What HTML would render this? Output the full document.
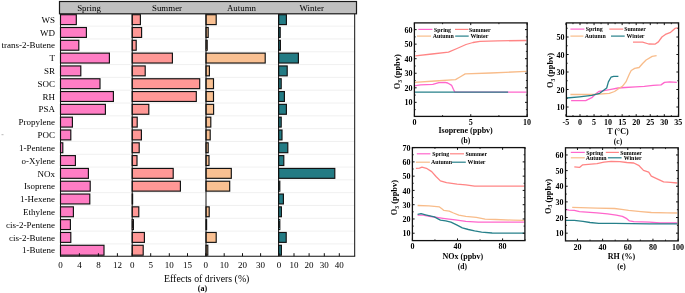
<!DOCTYPE html>
<html><head><meta charset="utf-8"><style>
html,body{margin:0;padding:0;background:#fff;}
svg{display:block;font-family:"Liberation Serif", serif;filter:blur(0.3px);}
</style></head><body>
<svg width="685" height="293" viewBox="0 0 685 293">
<rect width="685" height="293" fill="#fff"/>
<line x1="60.5" y1="26.15" x2="354.7" y2="26.15" stroke="#ececec" stroke-width="0.8"/>
<line x1="60.5" y1="38.96" x2="354.7" y2="38.96" stroke="#ececec" stroke-width="0.8"/>
<line x1="60.5" y1="51.77" x2="354.7" y2="51.77" stroke="#ececec" stroke-width="0.8"/>
<line x1="60.5" y1="64.58" x2="354.7" y2="64.58" stroke="#ececec" stroke-width="0.8"/>
<line x1="60.5" y1="77.39" x2="354.7" y2="77.39" stroke="#ececec" stroke-width="0.8"/>
<line x1="60.5" y1="90.20" x2="354.7" y2="90.20" stroke="#ececec" stroke-width="0.8"/>
<line x1="60.5" y1="103.01" x2="354.7" y2="103.01" stroke="#ececec" stroke-width="0.8"/>
<line x1="60.5" y1="115.82" x2="354.7" y2="115.82" stroke="#ececec" stroke-width="0.8"/>
<line x1="60.5" y1="128.63" x2="354.7" y2="128.63" stroke="#ececec" stroke-width="0.8"/>
<line x1="60.5" y1="141.44" x2="354.7" y2="141.44" stroke="#ececec" stroke-width="0.8"/>
<line x1="60.5" y1="154.25" x2="354.7" y2="154.25" stroke="#ececec" stroke-width="0.8"/>
<line x1="60.5" y1="167.06" x2="354.7" y2="167.06" stroke="#ececec" stroke-width="0.8"/>
<line x1="60.5" y1="179.87" x2="354.7" y2="179.87" stroke="#ececec" stroke-width="0.8"/>
<line x1="60.5" y1="192.68" x2="354.7" y2="192.68" stroke="#ececec" stroke-width="0.8"/>
<line x1="60.5" y1="205.49" x2="354.7" y2="205.49" stroke="#ececec" stroke-width="0.8"/>
<line x1="60.5" y1="218.30" x2="354.7" y2="218.30" stroke="#ececec" stroke-width="0.8"/>
<line x1="60.5" y1="231.11" x2="354.7" y2="231.11" stroke="#ececec" stroke-width="0.8"/>
<line x1="60.5" y1="243.92" x2="354.7" y2="243.92" stroke="#ececec" stroke-width="0.8"/>
<rect x="60.50" y="14.70" width="15.80" height="9.9" fill="#ff7dc4" stroke="#111" stroke-width="1.15"/>
<rect x="60.50" y="27.51" width="25.90" height="9.9" fill="#ff7dc4" stroke="#111" stroke-width="1.15"/>
<rect x="60.50" y="40.32" width="18.30" height="9.9" fill="#ff7dc4" stroke="#111" stroke-width="1.15"/>
<rect x="60.50" y="53.13" width="48.90" height="9.9" fill="#ff7dc4" stroke="#111" stroke-width="1.15"/>
<rect x="60.50" y="65.94" width="20.30" height="9.9" fill="#ff7dc4" stroke="#111" stroke-width="1.15"/>
<rect x="60.50" y="78.75" width="39.50" height="9.9" fill="#ff7dc4" stroke="#111" stroke-width="1.15"/>
<rect x="60.50" y="91.56" width="52.90" height="9.9" fill="#ff7dc4" stroke="#111" stroke-width="1.15"/>
<rect x="60.50" y="104.37" width="44.90" height="9.9" fill="#ff7dc4" stroke="#111" stroke-width="1.15"/>
<rect x="60.50" y="117.18" width="11.90" height="9.9" fill="#ff7dc4" stroke="#111" stroke-width="1.15"/>
<rect x="60.50" y="129.99" width="10.30" height="9.9" fill="#ff7dc4" stroke="#111" stroke-width="1.15"/>
<rect x="60.50" y="142.80" width="2.30" height="9.9" fill="#ff7dc4" stroke="#111" stroke-width="1.15"/>
<rect x="60.50" y="155.61" width="14.90" height="9.9" fill="#ff7dc4" stroke="#111" stroke-width="1.15"/>
<rect x="60.50" y="168.42" width="27.90" height="9.9" fill="#ff7dc4" stroke="#111" stroke-width="1.15"/>
<rect x="60.50" y="181.23" width="29.70" height="9.9" fill="#ff7dc4" stroke="#111" stroke-width="1.15"/>
<rect x="60.50" y="194.04" width="29.30" height="9.9" fill="#ff7dc4" stroke="#111" stroke-width="1.15"/>
<rect x="60.50" y="206.85" width="12.90" height="9.9" fill="#ff7dc4" stroke="#111" stroke-width="1.15"/>
<rect x="60.50" y="219.66" width="9.90" height="9.9" fill="#ff7dc4" stroke="#111" stroke-width="1.15"/>
<rect x="60.50" y="232.47" width="10.30" height="9.9" fill="#ff7dc4" stroke="#111" stroke-width="1.15"/>
<rect x="60.50" y="245.28" width="43.50" height="9.9" fill="#ff7dc4" stroke="#111" stroke-width="1.15"/>
<rect x="132.20" y="14.70" width="8.20" height="9.9" fill="#ff9896" stroke="#111" stroke-width="1.15"/>
<rect x="132.20" y="27.51" width="9.40" height="9.9" fill="#ff9896" stroke="#111" stroke-width="1.15"/>
<rect x="132.20" y="40.32" width="4.00" height="9.9" fill="#ff9896" stroke="#111" stroke-width="1.15"/>
<rect x="132.20" y="53.13" width="40.20" height="9.9" fill="#ff9896" stroke="#111" stroke-width="1.15"/>
<rect x="132.20" y="65.94" width="13.00" height="9.9" fill="#ff9896" stroke="#111" stroke-width="1.15"/>
<rect x="132.20" y="78.75" width="67.50" height="9.9" fill="#ff9896" stroke="#111" stroke-width="1.15"/>
<rect x="132.20" y="91.56" width="64.10" height="9.9" fill="#ff9896" stroke="#111" stroke-width="1.15"/>
<rect x="132.20" y="104.37" width="16.60" height="9.9" fill="#ff9896" stroke="#111" stroke-width="1.15"/>
<rect x="132.20" y="117.18" width="5.00" height="9.9" fill="#ff9896" stroke="#111" stroke-width="1.15"/>
<rect x="132.20" y="129.99" width="9.20" height="9.9" fill="#ff9896" stroke="#111" stroke-width="1.15"/>
<rect x="132.20" y="142.80" width="7.00" height="9.9" fill="#ff9896" stroke="#111" stroke-width="1.15"/>
<rect x="132.20" y="155.61" width="4.80" height="9.9" fill="#ff9896" stroke="#111" stroke-width="1.15"/>
<rect x="132.20" y="168.42" width="41.00" height="9.9" fill="#ff9896" stroke="#111" stroke-width="1.15"/>
<rect x="132.20" y="181.23" width="48.20" height="9.9" fill="#ff9896" stroke="#111" stroke-width="1.15"/>
<rect x="132.20" y="194.04" width="0.40" height="9.9" fill="#ff9896" stroke="#111" stroke-width="1.15"/>
<rect x="132.20" y="206.85" width="6.60" height="9.9" fill="#ff9896" stroke="#111" stroke-width="1.15"/>
<rect x="132.20" y="219.66" width="1.20" height="9.9" fill="#ff9896" stroke="#111" stroke-width="1.15"/>
<rect x="132.20" y="232.47" width="12.20" height="9.9" fill="#ff9896" stroke="#111" stroke-width="1.15"/>
<rect x="132.20" y="245.28" width="11.00" height="9.9" fill="#ff9896" stroke="#111" stroke-width="1.15"/>
<rect x="206.00" y="14.70" width="10.20" height="9.9" fill="#f9c092" stroke="#111" stroke-width="1.15"/>
<rect x="206.00" y="27.51" width="2.20" height="9.9" fill="#f9c092" stroke="#111" stroke-width="1.15"/>
<rect x="206.00" y="40.32" width="1.20" height="9.9" fill="#f9c092" stroke="#111" stroke-width="1.15"/>
<rect x="206.00" y="53.13" width="59.20" height="9.9" fill="#f9c092" stroke="#111" stroke-width="1.15"/>
<rect x="206.00" y="65.94" width="3.40" height="9.9" fill="#f9c092" stroke="#111" stroke-width="1.15"/>
<rect x="206.00" y="78.75" width="7.50" height="9.9" fill="#f9c092" stroke="#111" stroke-width="1.15"/>
<rect x="206.00" y="91.56" width="7.50" height="9.9" fill="#f9c092" stroke="#111" stroke-width="1.15"/>
<rect x="206.00" y="104.37" width="7.60" height="9.9" fill="#f9c092" stroke="#111" stroke-width="1.15"/>
<rect x="206.00" y="117.18" width="4.80" height="9.9" fill="#f9c092" stroke="#111" stroke-width="1.15"/>
<rect x="206.00" y="129.99" width="4.20" height="9.9" fill="#f9c092" stroke="#111" stroke-width="1.15"/>
<rect x="206.00" y="142.80" width="2.20" height="9.9" fill="#f9c092" stroke="#111" stroke-width="1.15"/>
<rect x="206.00" y="155.61" width="3.00" height="9.9" fill="#f9c092" stroke="#111" stroke-width="1.15"/>
<rect x="206.00" y="168.42" width="25.30" height="9.9" fill="#f9c092" stroke="#111" stroke-width="1.15"/>
<rect x="206.00" y="181.23" width="23.70" height="9.9" fill="#f9c092" stroke="#111" stroke-width="1.15"/>
<rect x="206.00" y="206.85" width="3.20" height="9.9" fill="#f9c092" stroke="#111" stroke-width="1.15"/>
<rect x="206.00" y="219.66" width="0.60" height="9.9" fill="#f9c092" stroke="#111" stroke-width="1.15"/>
<rect x="206.00" y="232.47" width="10.20" height="9.9" fill="#f9c092" stroke="#111" stroke-width="1.15"/>
<rect x="206.00" y="245.28" width="1.80" height="9.9" fill="#f9c092" stroke="#111" stroke-width="1.15"/>
<rect x="278.60" y="14.70" width="7.80" height="9.9" fill="#237b84" stroke="#111" stroke-width="1.15"/>
<rect x="278.60" y="27.51" width="1.60" height="9.9" fill="#237b84" stroke="#111" stroke-width="1.15"/>
<rect x="278.60" y="40.32" width="1.80" height="9.9" fill="#237b84" stroke="#111" stroke-width="1.15"/>
<rect x="278.60" y="53.13" width="19.80" height="9.9" fill="#237b84" stroke="#111" stroke-width="1.15"/>
<rect x="278.60" y="65.94" width="8.60" height="9.9" fill="#237b84" stroke="#111" stroke-width="1.15"/>
<rect x="278.60" y="78.75" width="2.60" height="9.9" fill="#237b84" stroke="#111" stroke-width="1.15"/>
<rect x="278.60" y="91.56" width="5.80" height="9.9" fill="#237b84" stroke="#111" stroke-width="1.15"/>
<rect x="278.60" y="104.37" width="7.80" height="9.9" fill="#237b84" stroke="#111" stroke-width="1.15"/>
<rect x="278.60" y="117.18" width="2.60" height="9.9" fill="#237b84" stroke="#111" stroke-width="1.15"/>
<rect x="278.60" y="129.99" width="3.40" height="9.9" fill="#237b84" stroke="#111" stroke-width="1.15"/>
<rect x="278.60" y="142.80" width="9.20" height="9.9" fill="#237b84" stroke="#111" stroke-width="1.15"/>
<rect x="278.60" y="155.61" width="5.20" height="9.9" fill="#237b84" stroke="#111" stroke-width="1.15"/>
<rect x="278.60" y="168.42" width="56.20" height="9.9" fill="#237b84" stroke="#111" stroke-width="1.15"/>
<rect x="278.60" y="181.23" width="1.20" height="9.9" fill="#237b84" stroke="#111" stroke-width="1.15"/>
<rect x="278.60" y="194.04" width="4.80" height="9.9" fill="#237b84" stroke="#111" stroke-width="1.15"/>
<rect x="278.60" y="206.85" width="2.80" height="9.9" fill="#237b84" stroke="#111" stroke-width="1.15"/>
<rect x="278.60" y="219.66" width="1.20" height="9.9" fill="#237b84" stroke="#111" stroke-width="1.15"/>
<rect x="278.60" y="232.47" width="7.60" height="9.9" fill="#237b84" stroke="#111" stroke-width="1.15"/>
<rect x="278.60" y="245.28" width="2.80" height="9.9" fill="#237b84" stroke="#111" stroke-width="1.15"/>
<line x1="60.5" y1="14" x2="60.5" y2="256.2" stroke="#111" stroke-width="1"/>
<line x1="132.2" y1="14" x2="132.2" y2="256.2" stroke="#111" stroke-width="1"/>
<line x1="206.0" y1="14" x2="206.0" y2="256.2" stroke="#111" stroke-width="1"/>
<line x1="278.6" y1="14" x2="278.6" y2="256.2" stroke="#111" stroke-width="1"/>
<line x1="354.7" y1="14" x2="354.7" y2="256.2" stroke="#111" stroke-width="1"/>
<line x1="60" y1="256.2" x2="355.2" y2="256.2" stroke="#111" stroke-width="1.1"/>
<rect x="59.5" y="1.5" width="297" height="12.3" fill="#c0c0c0" stroke="#1a1a1a" stroke-width="1.2"/>
<text x="89" y="11" font-size="8.9" text-anchor="middle" fill="#000">Spring</text>
<text x="167" y="11" font-size="8.9" text-anchor="middle" fill="#000">Summer</text>
<text x="241.5" y="11" font-size="8.9" text-anchor="middle" fill="#000">Autumn</text>
<text x="311.7" y="11" font-size="8.9" text-anchor="middle" fill="#000">Winter</text>
<text x="55" y="22.80" font-size="9" text-anchor="end" fill="#000">WS</text>
<text x="55" y="35.61" font-size="9" text-anchor="end" fill="#000">WD</text>
<text x="55" y="48.42" font-size="9" text-anchor="end" fill="#000">trans-2-Butene</text>
<text x="55" y="61.23" font-size="9" text-anchor="end" fill="#000">T</text>
<text x="55" y="74.04" font-size="9" text-anchor="end" fill="#000">SR</text>
<text x="55" y="86.85" font-size="9" text-anchor="end" fill="#000">SOC</text>
<text x="55" y="99.66" font-size="9" text-anchor="end" fill="#000">RH</text>
<text x="55" y="112.47" font-size="9" text-anchor="end" fill="#000">PSA</text>
<text x="55" y="125.28" font-size="9" text-anchor="end" fill="#000">Propylene</text>
<text x="55" y="138.09" font-size="9" text-anchor="end" fill="#000">POC</text>
<text x="55" y="150.90" font-size="9" text-anchor="end" fill="#000">1-Pentene</text>
<text x="55" y="163.71" font-size="9" text-anchor="end" fill="#000">o-Xylene</text>
<text x="55" y="176.52" font-size="9" text-anchor="end" fill="#000">NOx</text>
<text x="55" y="189.33" font-size="9" text-anchor="end" fill="#000">Isoprene</text>
<text x="55" y="202.14" font-size="9" text-anchor="end" fill="#000">1-Hexene</text>
<text x="55" y="214.95" font-size="9" text-anchor="end" fill="#000">Ethylene</text>
<text x="55" y="227.76" font-size="9" text-anchor="end" fill="#000">cis-2-Pentene</text>
<text x="55" y="240.57" font-size="9" text-anchor="end" fill="#000">cis-2-Butene</text>
<text x="55" y="253.38" font-size="9" text-anchor="end" fill="#000">1-Butene</text>
<line x1="60.5" y1="256.2" x2="60.5" y2="253.2" stroke="#111" stroke-width="1"/>
<text x="60.5" y="268.3" font-size="9" text-anchor="middle" fill="#000">0</text>
<line x1="79.4" y1="256.2" x2="79.4" y2="253.2" stroke="#111" stroke-width="1"/>
<text x="79.4" y="268.3" font-size="9" text-anchor="middle" fill="#000">4</text>
<line x1="98.4" y1="256.2" x2="98.4" y2="253.2" stroke="#111" stroke-width="1"/>
<text x="98.4" y="268.3" font-size="9" text-anchor="middle" fill="#000">8</text>
<line x1="117.4" y1="256.2" x2="117.4" y2="253.2" stroke="#111" stroke-width="1"/>
<text x="117.4" y="268.3" font-size="9" text-anchor="middle" fill="#000">12</text>
<line x1="132.2" y1="256.2" x2="132.2" y2="253.2" stroke="#111" stroke-width="1"/>
<text x="132.2" y="268.3" font-size="9" text-anchor="middle" fill="#000">0</text>
<line x1="150.7" y1="256.2" x2="150.7" y2="253.2" stroke="#111" stroke-width="1"/>
<text x="150.7" y="268.3" font-size="9" text-anchor="middle" fill="#000">5</text>
<line x1="169.3" y1="256.2" x2="169.3" y2="253.2" stroke="#111" stroke-width="1"/>
<text x="169.3" y="268.3" font-size="9" text-anchor="middle" fill="#000">10</text>
<line x1="187.5" y1="256.2" x2="187.5" y2="253.2" stroke="#111" stroke-width="1"/>
<text x="187.5" y="268.3" font-size="9" text-anchor="middle" fill="#000">15</text>
<line x1="205.8" y1="256.2" x2="205.8" y2="253.2" stroke="#111" stroke-width="1"/>
<text x="205.8" y="268.3" font-size="9" text-anchor="middle" fill="#000">0</text>
<line x1="224.2" y1="256.2" x2="224.2" y2="253.2" stroke="#111" stroke-width="1"/>
<text x="224.2" y="268.3" font-size="9" text-anchor="middle" fill="#000">10</text>
<line x1="242.5" y1="256.2" x2="242.5" y2="253.2" stroke="#111" stroke-width="1"/>
<text x="242.5" y="268.3" font-size="9" text-anchor="middle" fill="#000">20</text>
<line x1="260.6" y1="256.2" x2="260.6" y2="253.2" stroke="#111" stroke-width="1"/>
<text x="260.6" y="268.3" font-size="9" text-anchor="middle" fill="#000">30</text>
<line x1="279.0" y1="256.2" x2="279.0" y2="253.2" stroke="#111" stroke-width="1"/>
<text x="279.0" y="268.3" font-size="9" text-anchor="middle" fill="#000">0</text>
<line x1="294.0" y1="256.2" x2="294.0" y2="253.2" stroke="#111" stroke-width="1"/>
<text x="294.0" y="268.3" font-size="9" text-anchor="middle" fill="#000">10</text>
<line x1="309.1" y1="256.2" x2="309.1" y2="253.2" stroke="#111" stroke-width="1"/>
<text x="309.1" y="268.3" font-size="9" text-anchor="middle" fill="#000">20</text>
<line x1="324.3" y1="256.2" x2="324.3" y2="253.2" stroke="#111" stroke-width="1"/>
<text x="324.3" y="268.3" font-size="9" text-anchor="middle" fill="#000">30</text>
<line x1="339.3" y1="256.2" x2="339.3" y2="253.2" stroke="#111" stroke-width="1"/>
<text x="339.3" y="268.3" font-size="9" text-anchor="middle" fill="#000">40</text>
<text x="206.7" y="282" font-size="9.85" text-anchor="middle" fill="#000">Effects of drivers (%)</text>
<text x="202.5" y="290.5" font-size="8" font-weight="bold" text-anchor="middle" fill="#000">(a)</text>
<line x1="1.5" y1="134.7" x2="3.5" y2="134.7" stroke="#999" stroke-width="0.7"/>
<polyline points="414.4,85.8 420.5,84.9 432.8,84.4 438.9,82.6 445.0,82.3 447.7,83.0 451.7,85.4 453.4,89.3 454.7,91.9 456.0,92.2 508.0,92.2 526.5,92.2" fill="none" stroke="#ff66cc" stroke-width="1.3" stroke-linejoin="round"/>
<polyline points="415.3,55.8 432.0,54.0 448.5,52.2 457.0,48.5 466.0,44.5 473.0,42.5 480.0,41.4 497.6,40.9 526.5,40.5" fill="none" stroke="#ff8585" stroke-width="1.3" stroke-linejoin="round"/>
<polyline points="414.4,82.3 435.0,81.0 455.5,79.6 460.0,77.0 465.2,73.9 490.6,73.0 526.5,71.4" fill="none" stroke="#f8bc8a" stroke-width="1.3" stroke-linejoin="round"/>
<polyline points="414.4,92.2 508.1,92.2" fill="none" stroke="#26808a" stroke-width="1.3" stroke-linejoin="round"/>
<rect x="414.4" y="22.9" width="112.80" height="93.50" fill="none" stroke="#111" stroke-width="1.3"/>
<line x1="414.4" y1="102.35" x2="416.59999999999997" y2="102.35" stroke="#111" stroke-width="1"/>
<line x1="527.2" y1="102.35" x2="525.0" y2="102.35" stroke="#111" stroke-width="1"/>
<text x="412.4" y="105.45" font-size="8" font-weight="bold" text-anchor="end" fill="#000">10</text>
<line x1="414.4" y1="87.80" x2="416.59999999999997" y2="87.80" stroke="#111" stroke-width="1"/>
<line x1="527.2" y1="87.80" x2="525.0" y2="87.80" stroke="#111" stroke-width="1"/>
<text x="412.4" y="90.90" font-size="8" font-weight="bold" text-anchor="end" fill="#000">20</text>
<line x1="414.4" y1="73.25" x2="416.59999999999997" y2="73.25" stroke="#111" stroke-width="1"/>
<line x1="527.2" y1="73.25" x2="525.0" y2="73.25" stroke="#111" stroke-width="1"/>
<text x="412.4" y="76.35" font-size="8" font-weight="bold" text-anchor="end" fill="#000">30</text>
<line x1="414.4" y1="58.70" x2="416.59999999999997" y2="58.70" stroke="#111" stroke-width="1"/>
<line x1="527.2" y1="58.70" x2="525.0" y2="58.70" stroke="#111" stroke-width="1"/>
<text x="412.4" y="61.80" font-size="8" font-weight="bold" text-anchor="end" fill="#000">40</text>
<line x1="414.4" y1="44.15" x2="416.59999999999997" y2="44.15" stroke="#111" stroke-width="1"/>
<line x1="527.2" y1="44.15" x2="525.0" y2="44.15" stroke="#111" stroke-width="1"/>
<text x="412.4" y="47.25" font-size="8" font-weight="bold" text-anchor="end" fill="#000">50</text>
<line x1="414.4" y1="29.60" x2="416.59999999999997" y2="29.60" stroke="#111" stroke-width="1"/>
<line x1="527.2" y1="29.60" x2="525.0" y2="29.60" stroke="#111" stroke-width="1"/>
<text x="412.4" y="32.70" font-size="8" font-weight="bold" text-anchor="end" fill="#000">60</text>
<line x1="414.4" y1="109.62" x2="415.7" y2="109.62" stroke="#111" stroke-width="0.9"/>
<line x1="527.2" y1="109.62" x2="525.9000000000001" y2="109.62" stroke="#111" stroke-width="0.9"/>
<line x1="414.4" y1="95.08" x2="415.7" y2="95.08" stroke="#111" stroke-width="0.9"/>
<line x1="527.2" y1="95.08" x2="525.9000000000001" y2="95.08" stroke="#111" stroke-width="0.9"/>
<line x1="414.4" y1="80.53" x2="415.7" y2="80.53" stroke="#111" stroke-width="0.9"/>
<line x1="527.2" y1="80.53" x2="525.9000000000001" y2="80.53" stroke="#111" stroke-width="0.9"/>
<line x1="414.4" y1="65.97" x2="415.7" y2="65.97" stroke="#111" stroke-width="0.9"/>
<line x1="527.2" y1="65.97" x2="525.9000000000001" y2="65.97" stroke="#111" stroke-width="0.9"/>
<line x1="414.4" y1="51.42" x2="415.7" y2="51.42" stroke="#111" stroke-width="0.9"/>
<line x1="527.2" y1="51.42" x2="525.9000000000001" y2="51.42" stroke="#111" stroke-width="0.9"/>
<line x1="414.4" y1="36.88" x2="415.7" y2="36.88" stroke="#111" stroke-width="0.9"/>
<line x1="527.2" y1="36.88" x2="525.9000000000001" y2="36.88" stroke="#111" stroke-width="0.9"/>
<line x1="414.40" y1="116.4" x2="414.40" y2="114.2" stroke="#111" stroke-width="1"/>
<line x1="414.40" y1="22.9" x2="414.40" y2="25.099999999999998" stroke="#111" stroke-width="1"/>
<text x="414.40" y="125.00" font-size="8" font-weight="bold" text-anchor="middle" fill="#000">0</text>
<line x1="470.75" y1="116.4" x2="470.75" y2="114.2" stroke="#111" stroke-width="1"/>
<line x1="470.75" y1="22.9" x2="470.75" y2="25.099999999999998" stroke="#111" stroke-width="1"/>
<text x="470.75" y="125.00" font-size="8" font-weight="bold" text-anchor="middle" fill="#000">5</text>
<line x1="527.10" y1="116.4" x2="527.10" y2="114.2" stroke="#111" stroke-width="1"/>
<line x1="527.10" y1="22.9" x2="527.10" y2="25.099999999999998" stroke="#111" stroke-width="1"/>
<text x="527.10" y="125.00" font-size="8" font-weight="bold" text-anchor="middle" fill="#000">10</text>
<line x1="442.57" y1="116.4" x2="442.57" y2="115.10000000000001" stroke="#111" stroke-width="0.9"/>
<line x1="442.57" y1="22.9" x2="442.57" y2="24.2" stroke="#111" stroke-width="0.9"/>
<line x1="498.92" y1="116.4" x2="498.92" y2="115.10000000000001" stroke="#111" stroke-width="0.9"/>
<line x1="498.92" y1="22.9" x2="498.92" y2="24.2" stroke="#111" stroke-width="0.9"/>
<text x="465.6" y="133.3" font-size="8" font-weight="bold" text-anchor="middle" fill="#000">Isoprene (ppbv)</text>
<text x="465.6" y="143.4" font-size="7.5" font-weight="bold" text-anchor="middle" fill="#000">(b)</text>
<text transform="translate(399.9,71.8) rotate(-90)" font-size="8.4" font-weight="bold" text-anchor="middle" fill="#000">O<tspan font-size="5.5" dy="1.8">3</tspan><tspan dy="-1.8"> (ppbv)</tspan></text>
<line x1="418.3" y1="29.4" x2="432.4" y2="29.4" stroke="#ff66cc" stroke-width="1.2"/>
<text x="434" y="31.5" font-size="5.9" font-weight="bold" fill="#000">Spring</text>
<line x1="455" y1="29.4" x2="468.5" y2="29.4" stroke="#ff8585" stroke-width="1.2"/>
<text x="469" y="31.5" font-size="5.9" font-weight="bold" fill="#000">Summer</text>
<line x1="417" y1="36.1" x2="431" y2="36.1" stroke="#f8bc8a" stroke-width="1.2"/>
<text x="432.8" y="38.2" font-size="5.9" font-weight="bold" fill="#000">Autumn</text>
<line x1="455.2" y1="36.1" x2="468.7" y2="36.1" stroke="#26808a" stroke-width="1.2"/>
<text x="470.4" y="38.2" font-size="5.9" font-weight="bold" fill="#000">Winter</text>
<polyline points="571.1,100.6 585.7,100.6 591.8,97.7 595.3,94.2 598.8,91.5 604.0,90.7 611.0,89.4 618.1,88.0 625.1,87.5 635.6,86.8 644.3,86.3 653.1,85.4 661.0,84.9 664.5,82.4 669.7,81.9 676.8,82.4" fill="none" stroke="#ff66cc" stroke-width="1.3" stroke-linejoin="round"/>
<polyline points="633.0,42.2 642.6,42.2 648.7,44.0 654.9,44.2 658.4,41.9 661.9,37.0 665.4,34.4 670.6,32.3 675.0,28.4 677.6,27.9" fill="none" stroke="#ff8585" stroke-width="1.3" stroke-linejoin="round"/>
<polyline points="570.4,94.5 593.5,94.5 609.3,93.3 614.6,91.5 618.1,88.9 622.4,86.3 625.9,81.9 629.4,74.0 631.2,70.5 634.7,68.4 639.1,67.5 642.6,63.5 646.1,60.0 652.2,56.4 656.6,55.6" fill="none" stroke="#f8bc8a" stroke-width="1.3" stroke-linejoin="round"/>
<polyline points="566.4,98.0 579.5,96.8 591.8,95.4 599.7,93.3 604.0,90.1 606.7,88.0 608.4,81.9 611.0,77.2 613.7,76.3 618.4,76.3" fill="none" stroke="#26808a" stroke-width="1.3" stroke-linejoin="round"/>
<rect x="566.4" y="22.9" width="112.20" height="93.50" fill="none" stroke="#111" stroke-width="1.3"/>
<line x1="566.4" y1="107.00" x2="568.6" y2="107.00" stroke="#111" stroke-width="1"/>
<line x1="678.6" y1="107.00" x2="676.4" y2="107.00" stroke="#111" stroke-width="1"/>
<text x="564.4" y="110.10" font-size="8" font-weight="bold" text-anchor="end" fill="#000">10</text>
<line x1="566.4" y1="89.50" x2="568.6" y2="89.50" stroke="#111" stroke-width="1"/>
<line x1="678.6" y1="89.50" x2="676.4" y2="89.50" stroke="#111" stroke-width="1"/>
<text x="564.4" y="92.60" font-size="8" font-weight="bold" text-anchor="end" fill="#000">20</text>
<line x1="566.4" y1="72.00" x2="568.6" y2="72.00" stroke="#111" stroke-width="1"/>
<line x1="678.6" y1="72.00" x2="676.4" y2="72.00" stroke="#111" stroke-width="1"/>
<text x="564.4" y="75.10" font-size="8" font-weight="bold" text-anchor="end" fill="#000">30</text>
<line x1="566.4" y1="54.50" x2="568.6" y2="54.50" stroke="#111" stroke-width="1"/>
<line x1="678.6" y1="54.50" x2="676.4" y2="54.50" stroke="#111" stroke-width="1"/>
<text x="564.4" y="57.60" font-size="8" font-weight="bold" text-anchor="end" fill="#000">40</text>
<line x1="566.4" y1="37.00" x2="568.6" y2="37.00" stroke="#111" stroke-width="1"/>
<line x1="678.6" y1="37.00" x2="676.4" y2="37.00" stroke="#111" stroke-width="1"/>
<text x="564.4" y="40.10" font-size="8" font-weight="bold" text-anchor="end" fill="#000">50</text>
<line x1="566.4" y1="98.25" x2="567.6999999999999" y2="98.25" stroke="#111" stroke-width="0.9"/>
<line x1="678.6" y1="98.25" x2="677.3000000000001" y2="98.25" stroke="#111" stroke-width="0.9"/>
<line x1="566.4" y1="80.75" x2="567.6999999999999" y2="80.75" stroke="#111" stroke-width="0.9"/>
<line x1="678.6" y1="80.75" x2="677.3000000000001" y2="80.75" stroke="#111" stroke-width="0.9"/>
<line x1="566.4" y1="63.25" x2="567.6999999999999" y2="63.25" stroke="#111" stroke-width="0.9"/>
<line x1="678.6" y1="63.25" x2="677.3000000000001" y2="63.25" stroke="#111" stroke-width="0.9"/>
<line x1="566.4" y1="45.75" x2="567.6999999999999" y2="45.75" stroke="#111" stroke-width="0.9"/>
<line x1="678.6" y1="45.75" x2="677.3000000000001" y2="45.75" stroke="#111" stroke-width="0.9"/>
<line x1="566.4" y1="28.25" x2="567.6999999999999" y2="28.25" stroke="#111" stroke-width="0.9"/>
<line x1="678.6" y1="28.25" x2="677.3000000000001" y2="28.25" stroke="#111" stroke-width="0.9"/>
<line x1="565.95" y1="116.4" x2="565.95" y2="114.2" stroke="#111" stroke-width="1"/>
<line x1="565.95" y1="22.9" x2="565.95" y2="25.099999999999998" stroke="#111" stroke-width="1"/>
<text x="565.95" y="125.00" font-size="8" font-weight="bold" text-anchor="middle" fill="#000">-5</text>
<line x1="580.00" y1="116.4" x2="580.00" y2="114.2" stroke="#111" stroke-width="1"/>
<line x1="580.00" y1="22.9" x2="580.00" y2="25.099999999999998" stroke="#111" stroke-width="1"/>
<text x="580.00" y="125.00" font-size="8" font-weight="bold" text-anchor="middle" fill="#000">0</text>
<line x1="594.05" y1="116.4" x2="594.05" y2="114.2" stroke="#111" stroke-width="1"/>
<line x1="594.05" y1="22.9" x2="594.05" y2="25.099999999999998" stroke="#111" stroke-width="1"/>
<text x="594.05" y="125.00" font-size="8" font-weight="bold" text-anchor="middle" fill="#000">5</text>
<line x1="608.10" y1="116.4" x2="608.10" y2="114.2" stroke="#111" stroke-width="1"/>
<line x1="608.10" y1="22.9" x2="608.10" y2="25.099999999999998" stroke="#111" stroke-width="1"/>
<text x="608.10" y="125.00" font-size="8" font-weight="bold" text-anchor="middle" fill="#000">10</text>
<line x1="622.15" y1="116.4" x2="622.15" y2="114.2" stroke="#111" stroke-width="1"/>
<line x1="622.15" y1="22.9" x2="622.15" y2="25.099999999999998" stroke="#111" stroke-width="1"/>
<text x="622.15" y="125.00" font-size="8" font-weight="bold" text-anchor="middle" fill="#000">15</text>
<line x1="636.20" y1="116.4" x2="636.20" y2="114.2" stroke="#111" stroke-width="1"/>
<line x1="636.20" y1="22.9" x2="636.20" y2="25.099999999999998" stroke="#111" stroke-width="1"/>
<text x="636.20" y="125.00" font-size="8" font-weight="bold" text-anchor="middle" fill="#000">20</text>
<line x1="650.25" y1="116.4" x2="650.25" y2="114.2" stroke="#111" stroke-width="1"/>
<line x1="650.25" y1="22.9" x2="650.25" y2="25.099999999999998" stroke="#111" stroke-width="1"/>
<text x="650.25" y="125.00" font-size="8" font-weight="bold" text-anchor="middle" fill="#000">25</text>
<line x1="664.30" y1="116.4" x2="664.30" y2="114.2" stroke="#111" stroke-width="1"/>
<line x1="664.30" y1="22.9" x2="664.30" y2="25.099999999999998" stroke="#111" stroke-width="1"/>
<text x="664.30" y="125.00" font-size="8" font-weight="bold" text-anchor="middle" fill="#000">30</text>
<line x1="678.35" y1="116.4" x2="678.35" y2="114.2" stroke="#111" stroke-width="1"/>
<line x1="678.35" y1="22.9" x2="678.35" y2="25.099999999999998" stroke="#111" stroke-width="1"/>
<text x="678.35" y="125.00" font-size="8" font-weight="bold" text-anchor="middle" fill="#000">35</text>
<line x1="572.98" y1="116.4" x2="572.98" y2="115.10000000000001" stroke="#111" stroke-width="0.9"/>
<line x1="572.98" y1="22.9" x2="572.98" y2="24.2" stroke="#111" stroke-width="0.9"/>
<line x1="587.02" y1="116.4" x2="587.02" y2="115.10000000000001" stroke="#111" stroke-width="0.9"/>
<line x1="587.02" y1="22.9" x2="587.02" y2="24.2" stroke="#111" stroke-width="0.9"/>
<line x1="601.08" y1="116.4" x2="601.08" y2="115.10000000000001" stroke="#111" stroke-width="0.9"/>
<line x1="601.08" y1="22.9" x2="601.08" y2="24.2" stroke="#111" stroke-width="0.9"/>
<line x1="615.12" y1="116.4" x2="615.12" y2="115.10000000000001" stroke="#111" stroke-width="0.9"/>
<line x1="615.12" y1="22.9" x2="615.12" y2="24.2" stroke="#111" stroke-width="0.9"/>
<line x1="629.17" y1="116.4" x2="629.17" y2="115.10000000000001" stroke="#111" stroke-width="0.9"/>
<line x1="629.17" y1="22.9" x2="629.17" y2="24.2" stroke="#111" stroke-width="0.9"/>
<line x1="643.23" y1="116.4" x2="643.23" y2="115.10000000000001" stroke="#111" stroke-width="0.9"/>
<line x1="643.23" y1="22.9" x2="643.23" y2="24.2" stroke="#111" stroke-width="0.9"/>
<line x1="657.27" y1="116.4" x2="657.27" y2="115.10000000000001" stroke="#111" stroke-width="0.9"/>
<line x1="657.27" y1="22.9" x2="657.27" y2="24.2" stroke="#111" stroke-width="0.9"/>
<line x1="671.33" y1="116.4" x2="671.33" y2="115.10000000000001" stroke="#111" stroke-width="0.9"/>
<line x1="671.33" y1="22.9" x2="671.33" y2="24.2" stroke="#111" stroke-width="0.9"/>
<text x="618" y="134" font-size="8" font-weight="bold" text-anchor="middle" fill="#000">T (°C)</text>
<text x="618" y="144.2" font-size="7.5" font-weight="bold" text-anchor="middle" fill="#000">(c)</text>
<text transform="translate(553.1,70.5) rotate(-90)" font-size="8.4" font-weight="bold" text-anchor="middle" fill="#000">O<tspan font-size="5.5" dy="1.8">3</tspan><tspan dy="-1.8"> (ppbv)</tspan></text>
<line x1="570.4" y1="29.1" x2="584.4" y2="29.1" stroke="#ff66cc" stroke-width="1.2"/>
<text x="585.7" y="31.2" font-size="5.9" font-weight="bold" fill="#000">Spring</text>
<line x1="609.3" y1="29.1" x2="623.3" y2="29.1" stroke="#ff8585" stroke-width="1.2"/>
<text x="624.2" y="31.2" font-size="5.9" font-weight="bold" fill="#000">Summer</text>
<line x1="570.4" y1="36.1" x2="583.4" y2="36.1" stroke="#f8bc8a" stroke-width="1.2"/>
<text x="584.8" y="38.2" font-size="5.9" font-weight="bold" fill="#000">Autumn</text>
<line x1="611" y1="36.1" x2="624.7" y2="36.1" stroke="#26808a" stroke-width="1.2"/>
<text x="626.5" y="38.2" font-size="5.9" font-weight="bold" fill="#000">Winter</text>
<polyline points="417.6,215.1 422.9,215.1 430.8,216.5 443.0,218.3 455.3,219.9 465.8,221.3 478.1,222.2 524.5,222.2" fill="none" stroke="#ff66cc" stroke-width="1.3" stroke-linejoin="round"/>
<polyline points="415.9,168.3 419.4,168.1 422.0,167.2 426.4,168.3 431.7,171.6 436.0,176.5 440.4,180.9 446.5,182.7 457.1,184.1 465.8,184.9 474.6,186.2 486.8,186.2 524.5,186.2" fill="none" stroke="#ff8585" stroke-width="1.3" stroke-linejoin="round"/>
<polyline points="417.6,205.5 429.0,205.9 439.5,206.9 442.2,209.0 443.9,210.4 449.2,211.1 453.5,213.0 458.8,215.1 465.8,216.4 476.3,217.4 485.1,219.2 495.6,219.5 513.1,220.1 524.5,220.4" fill="none" stroke="#f8bc8a" stroke-width="1.3" stroke-linejoin="round"/>
<polyline points="417.6,214.3 421.1,213.7 425.5,214.8 434.3,216.9 440.4,220.1 445.7,220.8 450.9,222.2 457.1,225.1 462.3,227.9 468.4,229.5 474.6,230.9 481.6,232.1 492.1,233.0 506.1,233.2 524.5,233.2" fill="none" stroke="#26808a" stroke-width="1.3" stroke-linejoin="round"/>
<rect x="412.4" y="147.6" width="112.50" height="93.00" fill="none" stroke="#111" stroke-width="1.3"/>
<line x1="412.4" y1="233.23" x2="414.59999999999997" y2="233.23" stroke="#111" stroke-width="1"/>
<line x1="524.9" y1="233.23" x2="522.6999999999999" y2="233.23" stroke="#111" stroke-width="1"/>
<text x="410.4" y="236.33" font-size="8" font-weight="bold" text-anchor="end" fill="#000">10</text>
<line x1="412.4" y1="218.96" x2="414.59999999999997" y2="218.96" stroke="#111" stroke-width="1"/>
<line x1="524.9" y1="218.96" x2="522.6999999999999" y2="218.96" stroke="#111" stroke-width="1"/>
<text x="410.4" y="222.06" font-size="8" font-weight="bold" text-anchor="end" fill="#000">20</text>
<line x1="412.4" y1="204.69" x2="414.59999999999997" y2="204.69" stroke="#111" stroke-width="1"/>
<line x1="524.9" y1="204.69" x2="522.6999999999999" y2="204.69" stroke="#111" stroke-width="1"/>
<text x="410.4" y="207.79" font-size="8" font-weight="bold" text-anchor="end" fill="#000">30</text>
<line x1="412.4" y1="190.42" x2="414.59999999999997" y2="190.42" stroke="#111" stroke-width="1"/>
<line x1="524.9" y1="190.42" x2="522.6999999999999" y2="190.42" stroke="#111" stroke-width="1"/>
<text x="410.4" y="193.52" font-size="8" font-weight="bold" text-anchor="end" fill="#000">40</text>
<line x1="412.4" y1="176.15" x2="414.59999999999997" y2="176.15" stroke="#111" stroke-width="1"/>
<line x1="524.9" y1="176.15" x2="522.6999999999999" y2="176.15" stroke="#111" stroke-width="1"/>
<text x="410.4" y="179.25" font-size="8" font-weight="bold" text-anchor="end" fill="#000">50</text>
<line x1="412.4" y1="161.88" x2="414.59999999999997" y2="161.88" stroke="#111" stroke-width="1"/>
<line x1="524.9" y1="161.88" x2="522.6999999999999" y2="161.88" stroke="#111" stroke-width="1"/>
<text x="410.4" y="164.98" font-size="8" font-weight="bold" text-anchor="end" fill="#000">60</text>
<line x1="412.4" y1="147.61" x2="414.59999999999997" y2="147.61" stroke="#111" stroke-width="1"/>
<line x1="524.9" y1="147.61" x2="522.6999999999999" y2="147.61" stroke="#111" stroke-width="1"/>
<text x="410.4" y="150.71" font-size="8" font-weight="bold" text-anchor="end" fill="#000">70</text>
<line x1="412.4" y1="226.09" x2="413.7" y2="226.09" stroke="#111" stroke-width="0.9"/>
<line x1="524.9" y1="226.09" x2="523.6" y2="226.09" stroke="#111" stroke-width="0.9"/>
<line x1="412.4" y1="211.82" x2="413.7" y2="211.82" stroke="#111" stroke-width="0.9"/>
<line x1="524.9" y1="211.82" x2="523.6" y2="211.82" stroke="#111" stroke-width="0.9"/>
<line x1="412.4" y1="197.56" x2="413.7" y2="197.56" stroke="#111" stroke-width="0.9"/>
<line x1="524.9" y1="197.56" x2="523.6" y2="197.56" stroke="#111" stroke-width="0.9"/>
<line x1="412.4" y1="183.28" x2="413.7" y2="183.28" stroke="#111" stroke-width="0.9"/>
<line x1="524.9" y1="183.28" x2="523.6" y2="183.28" stroke="#111" stroke-width="0.9"/>
<line x1="412.4" y1="169.01" x2="413.7" y2="169.01" stroke="#111" stroke-width="0.9"/>
<line x1="524.9" y1="169.01" x2="523.6" y2="169.01" stroke="#111" stroke-width="0.9"/>
<line x1="412.4" y1="154.75" x2="413.7" y2="154.75" stroke="#111" stroke-width="0.9"/>
<line x1="524.9" y1="154.75" x2="523.6" y2="154.75" stroke="#111" stroke-width="0.9"/>
<line x1="412.40" y1="240.6" x2="412.40" y2="238.4" stroke="#111" stroke-width="1"/>
<line x1="412.40" y1="147.6" x2="412.40" y2="149.79999999999998" stroke="#111" stroke-width="1"/>
<text x="412.40" y="249.20" font-size="8" font-weight="bold" text-anchor="middle" fill="#000">0</text>
<line x1="457.50" y1="240.6" x2="457.50" y2="238.4" stroke="#111" stroke-width="1"/>
<line x1="457.50" y1="147.6" x2="457.50" y2="149.79999999999998" stroke="#111" stroke-width="1"/>
<text x="457.50" y="249.20" font-size="8" font-weight="bold" text-anchor="middle" fill="#000">40</text>
<line x1="502.60" y1="240.6" x2="502.60" y2="238.4" stroke="#111" stroke-width="1"/>
<line x1="502.60" y1="147.6" x2="502.60" y2="149.79999999999998" stroke="#111" stroke-width="1"/>
<text x="502.60" y="249.20" font-size="8" font-weight="bold" text-anchor="middle" fill="#000">80</text>
<line x1="434.95" y1="240.6" x2="434.95" y2="239.29999999999998" stroke="#111" stroke-width="0.9"/>
<line x1="434.95" y1="147.6" x2="434.95" y2="148.9" stroke="#111" stroke-width="0.9"/>
<line x1="480.05" y1="240.6" x2="480.05" y2="239.29999999999998" stroke="#111" stroke-width="0.9"/>
<line x1="480.05" y1="147.6" x2="480.05" y2="148.9" stroke="#111" stroke-width="0.9"/>
<line x1="525.15" y1="240.6" x2="525.15" y2="239.29999999999998" stroke="#111" stroke-width="0.9"/>
<line x1="525.15" y1="147.6" x2="525.15" y2="148.9" stroke="#111" stroke-width="0.9"/>
<text x="462.9" y="258.6" font-size="8" font-weight="bold" text-anchor="middle" fill="#000">NOx (ppbv)</text>
<text x="462.4" y="268.6" font-size="7.5" font-weight="bold" text-anchor="middle" fill="#000">(d)</text>
<text transform="translate(396.8,197.6) rotate(-90)" font-size="8.4" font-weight="bold" text-anchor="middle" fill="#000">O<tspan font-size="5.5" dy="1.8">3</tspan><tspan dy="-1.8"> (ppbv)</tspan></text>
<line x1="416.8" y1="153.8" x2="430.4" y2="153.8" stroke="#ff66cc" stroke-width="1.2"/>
<text x="432.2" y="155.9" font-size="5.9" font-weight="bold" fill="#000">Spring</text>
<line x1="450" y1="153.8" x2="464" y2="153.8" stroke="#ff8585" stroke-width="1.2"/>
<text x="465.5" y="155.9" font-size="5.9" font-weight="bold" fill="#000">Summer</text>
<line x1="415.9" y1="162.2" x2="429.9" y2="162.2" stroke="#f8bc8a" stroke-width="1.2"/>
<text x="431.1" y="164.3" font-size="5.9" font-weight="bold" fill="#000">Autumn</text>
<line x1="451.8" y1="162.2" x2="465.8" y2="162.2" stroke="#26808a" stroke-width="1.2"/>
<text x="467.6" y="164.3" font-size="5.9" font-weight="bold" fill="#000">Winter</text>
<polyline points="565.5,209.4 569.0,210.2 574.3,210.4 579.5,211.6 586.5,212.2 597.0,212.9 607.5,213.9 616.3,215.1 622.4,216.4 626.8,218.7 629.4,220.9 633.8,221.6 649.6,222.2 660.1,223.0 677.3,223.0" fill="none" stroke="#ff66cc" stroke-width="1.3" stroke-linejoin="round"/>
<polyline points="574.3,166.9 579.5,167.4 582.7,164.8 588.3,164.3 597.0,163.7 604.0,162.2 611.1,161.3 619.8,161.6 626.8,162.5 633.8,163.0 639.1,165.7 643.5,170.4 648.7,172.2 651.3,176.2 656.6,178.6 663.6,181.8 670.6,182.3 677.3,183.0" fill="none" stroke="#ff8585" stroke-width="1.3" stroke-linejoin="round"/>
<polyline points="572.2,207.3 597.0,208.1 614.6,208.5 621.6,209.4 628.6,210.4 640.8,211.6 651.3,212.5 667.1,212.9 677.3,213.0" fill="none" stroke="#f8bc8a" stroke-width="1.3" stroke-linejoin="round"/>
<polyline points="565.5,220.4 574.3,220.4 583.0,221.3 590.0,222.5 598.8,223.4 614.6,223.4 632.1,223.6 649.6,223.9 677.3,223.9" fill="none" stroke="#26808a" stroke-width="1.3" stroke-linejoin="round"/>
<rect x="565.5" y="147.8" width="112.70" height="93.10" fill="none" stroke="#111" stroke-width="1.3"/>
<line x1="565.5" y1="233.16" x2="567.7" y2="233.16" stroke="#111" stroke-width="1"/>
<line x1="678.2" y1="233.16" x2="676.0" y2="233.16" stroke="#111" stroke-width="1"/>
<text x="563.5" y="236.26" font-size="8" font-weight="bold" text-anchor="end" fill="#000">10</text>
<line x1="565.5" y1="217.52" x2="567.7" y2="217.52" stroke="#111" stroke-width="1"/>
<line x1="678.2" y1="217.52" x2="676.0" y2="217.52" stroke="#111" stroke-width="1"/>
<text x="563.5" y="220.62" font-size="8" font-weight="bold" text-anchor="end" fill="#000">20</text>
<line x1="565.5" y1="201.88" x2="567.7" y2="201.88" stroke="#111" stroke-width="1"/>
<line x1="678.2" y1="201.88" x2="676.0" y2="201.88" stroke="#111" stroke-width="1"/>
<text x="563.5" y="204.98" font-size="8" font-weight="bold" text-anchor="end" fill="#000">30</text>
<line x1="565.5" y1="186.24" x2="567.7" y2="186.24" stroke="#111" stroke-width="1"/>
<line x1="678.2" y1="186.24" x2="676.0" y2="186.24" stroke="#111" stroke-width="1"/>
<text x="563.5" y="189.34" font-size="8" font-weight="bold" text-anchor="end" fill="#000">40</text>
<line x1="565.5" y1="170.60" x2="567.7" y2="170.60" stroke="#111" stroke-width="1"/>
<line x1="678.2" y1="170.60" x2="676.0" y2="170.60" stroke="#111" stroke-width="1"/>
<text x="563.5" y="173.70" font-size="8" font-weight="bold" text-anchor="end" fill="#000">50</text>
<line x1="565.5" y1="154.96" x2="567.7" y2="154.96" stroke="#111" stroke-width="1"/>
<line x1="678.2" y1="154.96" x2="676.0" y2="154.96" stroke="#111" stroke-width="1"/>
<text x="563.5" y="158.06" font-size="8" font-weight="bold" text-anchor="end" fill="#000">60</text>
<line x1="565.5" y1="225.34" x2="566.8" y2="225.34" stroke="#111" stroke-width="0.9"/>
<line x1="678.2" y1="225.34" x2="676.9000000000001" y2="225.34" stroke="#111" stroke-width="0.9"/>
<line x1="565.5" y1="209.70" x2="566.8" y2="209.70" stroke="#111" stroke-width="0.9"/>
<line x1="678.2" y1="209.70" x2="676.9000000000001" y2="209.70" stroke="#111" stroke-width="0.9"/>
<line x1="565.5" y1="194.06" x2="566.8" y2="194.06" stroke="#111" stroke-width="0.9"/>
<line x1="678.2" y1="194.06" x2="676.9000000000001" y2="194.06" stroke="#111" stroke-width="0.9"/>
<line x1="565.5" y1="178.42" x2="566.8" y2="178.42" stroke="#111" stroke-width="0.9"/>
<line x1="678.2" y1="178.42" x2="676.9000000000001" y2="178.42" stroke="#111" stroke-width="0.9"/>
<line x1="565.5" y1="162.78" x2="566.8" y2="162.78" stroke="#111" stroke-width="0.9"/>
<line x1="678.2" y1="162.78" x2="676.9000000000001" y2="162.78" stroke="#111" stroke-width="0.9"/>
<line x1="577.46" y1="240.9" x2="577.46" y2="238.70000000000002" stroke="#111" stroke-width="1"/>
<line x1="577.46" y1="147.8" x2="577.46" y2="150.0" stroke="#111" stroke-width="1"/>
<text x="577.46" y="249.50" font-size="8" font-weight="bold" text-anchor="middle" fill="#000">20</text>
<line x1="602.62" y1="240.9" x2="602.62" y2="238.70000000000002" stroke="#111" stroke-width="1"/>
<line x1="602.62" y1="147.8" x2="602.62" y2="150.0" stroke="#111" stroke-width="1"/>
<text x="602.62" y="249.50" font-size="8" font-weight="bold" text-anchor="middle" fill="#000">40</text>
<line x1="627.78" y1="240.9" x2="627.78" y2="238.70000000000002" stroke="#111" stroke-width="1"/>
<line x1="627.78" y1="147.8" x2="627.78" y2="150.0" stroke="#111" stroke-width="1"/>
<text x="627.78" y="249.50" font-size="8" font-weight="bold" text-anchor="middle" fill="#000">60</text>
<line x1="652.94" y1="240.9" x2="652.94" y2="238.70000000000002" stroke="#111" stroke-width="1"/>
<line x1="652.94" y1="147.8" x2="652.94" y2="150.0" stroke="#111" stroke-width="1"/>
<text x="652.94" y="249.50" font-size="8" font-weight="bold" text-anchor="middle" fill="#000">80</text>
<line x1="678.10" y1="240.9" x2="678.10" y2="238.70000000000002" stroke="#111" stroke-width="1"/>
<line x1="678.10" y1="147.8" x2="678.10" y2="150.0" stroke="#111" stroke-width="1"/>
<text x="678.10" y="249.50" font-size="8" font-weight="bold" text-anchor="middle" fill="#000">100</text>
<line x1="590.04" y1="240.9" x2="590.04" y2="239.6" stroke="#111" stroke-width="0.9"/>
<line x1="590.04" y1="147.8" x2="590.04" y2="149.10000000000002" stroke="#111" stroke-width="0.9"/>
<line x1="615.20" y1="240.9" x2="615.20" y2="239.6" stroke="#111" stroke-width="0.9"/>
<line x1="615.20" y1="147.8" x2="615.20" y2="149.10000000000002" stroke="#111" stroke-width="0.9"/>
<line x1="640.36" y1="240.9" x2="640.36" y2="239.6" stroke="#111" stroke-width="0.9"/>
<line x1="640.36" y1="147.8" x2="640.36" y2="149.10000000000002" stroke="#111" stroke-width="0.9"/>
<line x1="665.52" y1="240.9" x2="665.52" y2="239.6" stroke="#111" stroke-width="0.9"/>
<line x1="665.52" y1="147.8" x2="665.52" y2="149.10000000000002" stroke="#111" stroke-width="0.9"/>
<text x="621.5" y="259" font-size="8" font-weight="bold" text-anchor="middle" fill="#000">RH (%)</text>
<text x="621.5" y="269" font-size="7.5" font-weight="bold" text-anchor="middle" fill="#000">(e)</text>
<text transform="translate(550.5,196.4) rotate(-90)" font-size="8.4" font-weight="bold" text-anchor="middle" fill="#000">O<tspan font-size="5.5" dy="1.8">3</tspan><tspan dy="-1.8"> (ppbv)</tspan></text>
<line x1="570.8" y1="152.4" x2="584.8" y2="152.4" stroke="#ff66cc" stroke-width="1.2"/>
<text x="586.2" y="154.5" font-size="5.9" font-weight="bold" fill="#000">Spring</text>
<line x1="605.8" y1="152.4" x2="618.9" y2="152.4" stroke="#ff8585" stroke-width="1.2"/>
<text x="620.3" y="154.5" font-size="5.9" font-weight="bold" fill="#000">Summer</text>
<line x1="570.8" y1="157.8" x2="584.8" y2="157.8" stroke="#f8bc8a" stroke-width="1.2"/>
<text x="585.7" y="159.9" font-size="5.9" font-weight="bold" fill="#000">Autumn</text>
<line x1="607.9" y1="157.8" x2="621.6" y2="157.8" stroke="#26808a" stroke-width="1.2"/>
<text x="623.7" y="159.9" font-size="5.9" font-weight="bold" fill="#000">Winter</text>
</svg>
</body></html>
